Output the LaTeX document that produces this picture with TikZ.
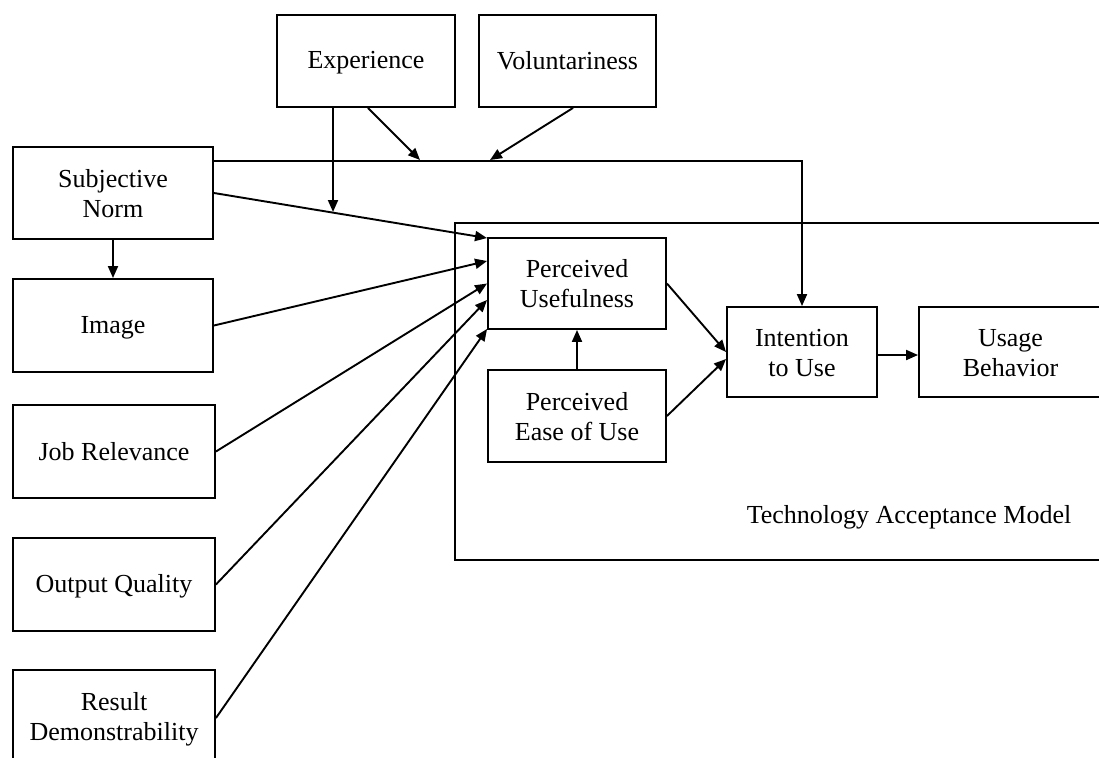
\documentclass[tikz,border=0pt]{standalone}
\usepackage{fontspec}
\setmainfont{Liberation Serif}
\usetikzlibrary{arrows.meta,calc}
\newcommand\bxstrut{\rule[-3pt]{0pt}{24pt}}
\begin{document}
\begin{tikzpicture}[x=1pt,y=-1pt,
  box/.style={draw, line width=1.9pt, inner sep=0pt, align=center,
    font=\fontsize{26}{30}\selectfont, fill=white},
  conn/.style={line width=1.9pt, -{Triangle[length=12pt,width=10pt]}}]
\useasboundingbox (0,0) rectangle (1099,757);
\clip (0,0) rectangle (1099,757);
\fill[white] (0,0) rectangle (1099,757);
% TAM frame
\node[draw, line width=1.9pt, minimum width=665pt, minimum height=337pt, inner sep=0pt] (tam) at (787.5,391.5) {};
\node[font=\fontsize{26}{30}\selectfont, inner sep=0pt] (tamlabel) at (909,516) {\bxstrut Technology Acceptance Model};
% boxes
\node[box, minimum width=178pt, minimum height=92pt] (exp) at (366,61) {\bxstrut Experience};
\node[box, minimum width=177pt, minimum height=92pt] (vol) at (567.5,61) {\bxstrut Voluntariness};
\node[box, minimum width=200pt, minimum height=92pt] (sn) at (113,193) {\bxstrut Subjective\\\bxstrut Norm};
\node[box, minimum width=200pt, minimum height=93pt] (img) at (113,325.5) {\bxstrut Image};
\node[box, minimum width=202pt, minimum height=93pt] (jr) at (114,451.5) {\bxstrut Job Relevance};
\node[box, minimum width=202pt, minimum height=93pt] (oq) at (114,584.5) {\bxstrut Output Quality};
\node[box, minimum width=202pt, minimum height=96pt] (rd) at (114,718) {\bxstrut Result\\\bxstrut Demonstrability};
\node[box, minimum width=178pt, minimum height=91pt] (pu) at (577,283.5) {\bxstrut Perceived\\\bxstrut Usefulness};
\node[box, minimum width=178pt, minimum height=92pt] (peou) at (577,416) {\bxstrut Perceived\\\bxstrut Ease of Use};
\node[box, minimum width=150pt, minimum height=90pt] (itu) at (802,352) {\bxstrut Intention\\\bxstrut to Use};
\node[box, minimum width=183pt, minimum height=90pt] (ub) at (1010.5,352) {\bxstrut Usage\\\bxstrut Behavior};
% free ends
\coordinate (expend) at (333,212);
\coordinate (modA) at (420,160);
\coordinate (modB) at (490,160);
% connectors
\draw[conn] ([yshift=32pt]sn.east) -| (itu.north);
\draw[conn] (sn.east) -- ([yshift=-1pt]pu.north west);
\draw[conn] (sn.south) -- (img.north);
\draw[conn] (img.east) -- ([yshift=22.5pt]pu.west);
\draw[conn] (jr.east) -- (pu.west);
\draw[conn] (oq.east) -- ([yshift=-16.5pt]pu.west);
\draw[conn] (rd.east) -- ([yshift=1pt]pu.south west);
\draw[conn] ([xshift=-33pt]exp.south) -- (expend);
\draw[conn] ([xshift=2pt]exp.south) -- (modA);
\draw[conn] ([xshift=5.5pt]vol.south) -- (modB);
\draw[conn] (peou.north) -- (pu.south);
\draw[conn] (pu.east) -- (itu.west);
\draw[conn] (peou.east) -- ([yshift=-7pt]itu.west);
\draw[conn] ([yshift=-3pt]itu.east) -- ([yshift=-3pt]ub.west);
\end{tikzpicture}
\end{document}
